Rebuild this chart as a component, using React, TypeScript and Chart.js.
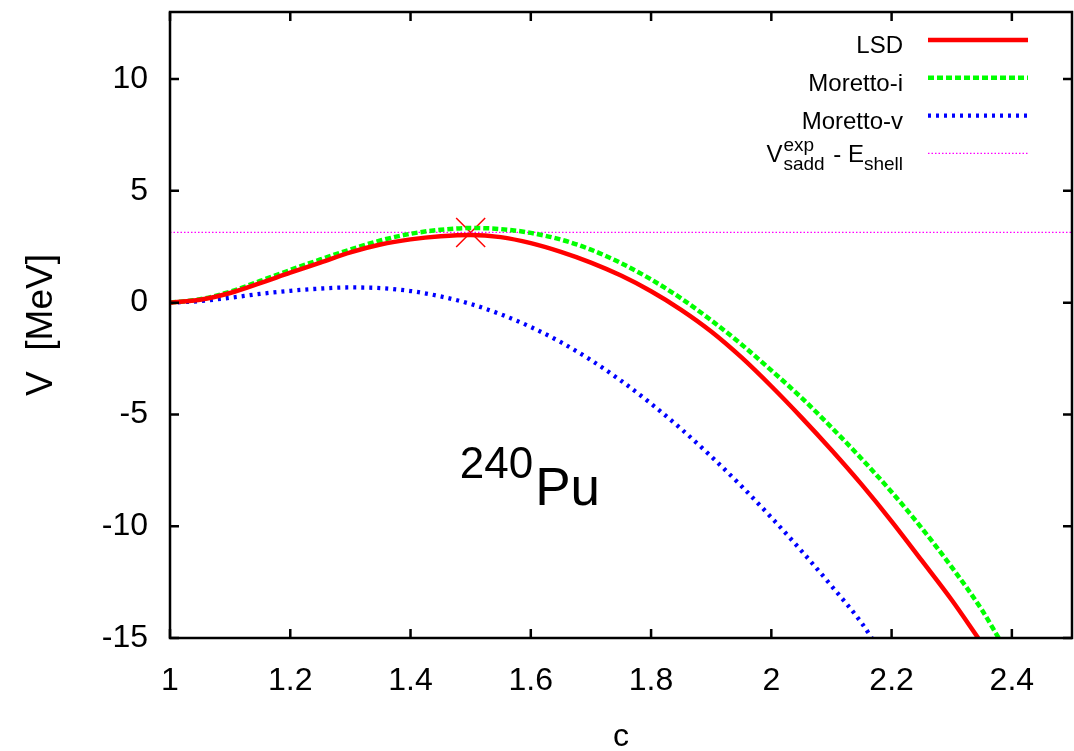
import React, { useEffect, useRef } from "react";
import { Chart, registerables } from "chart.js";

Chart.register(...registerables);

// ---- data ----
const cLSD = [1.0, 1.05, 1.1, 1.15, 1.2, 1.25, 1.3, 1.35, 1.4, 1.45, 1.5, 1.55, 1.6, 1.65, 1.7, 1.75, 1.8, 1.85, 1.9, 1.95, 2.0, 2.05, 2.1, 2.15, 2.2, 2.25, 2.3, 2.344];
const vLSD = [0, 0.13, 0.43, 0.87, 1.34, 1.79, 2.25, 2.6, 2.83, 2.97, 3.03, 2.93, 2.66, 2.27, 1.79, 1.21, 0.51, -0.32, -1.29, -2.44, -3.74, -5.13, -6.59, -8.13, -9.78, -11.53, -13.3, -15];

const cMorettoI = [1.0, 1.05, 1.1, 1.15, 1.2, 1.25, 1.3, 1.35, 1.4, 1.45, 1.5, 1.55, 1.6, 1.65, 1.7, 1.75, 1.8, 1.85, 1.9, 1.95, 2.0, 2.05, 2.1, 2.15, 2.2, 2.25, 2.3, 2.35, 2.378];
const vMorettoI = [0, 0.15, 0.49, 0.97, 1.46, 1.93, 2.38, 2.78, 3.08, 3.26, 3.34, 3.29, 3.12, 2.82, 2.37, 1.77, 1.04, 0.19, -0.79, -1.86, -3.03, -4.25, -5.58, -6.98, -8.47, -10.08, -11.83, -13.74, -15];

const cMorettoV = [1.0, 1.05, 1.1, 1.15, 1.2, 1.25, 1.3, 1.35, 1.4, 1.45, 1.5, 1.55, 1.6, 1.65, 1.7, 1.75, 1.8, 1.85, 1.9, 1.95, 2.0, 2.05, 2.1, 2.15, 2.167];
const vMorettoV = [0, 0.07, 0.22, 0.39, 0.53, 0.63, 0.68, 0.65, 0.52, 0.28, -0.06, -0.52, -1.09, -1.77, -2.57, -3.49, -4.52, -5.65, -6.88, -8.2, -9.61, -11.1, -12.67, -14.32, -15];

const cSadd = [1.0, 2.5];
const vSadd = [3.14, 3.14];

const cMark = [1.5];
const vMark = [3.14];

const xTicks = [1, 1.2, 1.4, 1.6, 1.8, 2, 2.2, 2.4];
const yTicks = [-15, -10, -5, 0, 5, 10];

const legendLabels = ["LSD", "Moretto-i", "Moretto-v", "V_sadd^exp - E_shell"];

const annotC = 1.482;
const annotV = -9.07;

const FONT = '"Liberation Sans", Arial, Helvetica, sans-serif';

const pts = (xs: number[], ys: number[]) => xs.map((x, i) => ({ x, y: ys[i] }));

const decoPlugin = {
  id: "deco",
  afterDraw(chart: any) {
    const { ctx, chartArea: a, scales } = chart;
    const xs = scales.x;
    const ys = scales.y;
    ctx.save();
    // frame + inward ticks (mirrored)
    ctx.strokeStyle = "#000";
    ctx.lineWidth = 2.5;
    ctx.beginPath();
    xTicks.forEach((v) => {
      const px = xs.getPixelForValue(v);
      ctx.moveTo(px, a.bottom);
      ctx.lineTo(px, a.bottom - 9);
      ctx.moveTo(px, a.top);
      ctx.lineTo(px, a.top + 9);
    });
    yTicks.forEach((v) => {
      const py = ys.getPixelForValue(v);
      ctx.moveTo(a.left, py);
      ctx.lineTo(a.left + 9, py);
      ctx.moveTo(a.right, py);
      ctx.lineTo(a.right - 9, py);
    });
    ctx.stroke();
    ctx.strokeRect(a.left, a.top, a.right - a.left, a.bottom - a.top);

    // legend (gnuplot style)
    const textRight = 903;
    const sampleL = 928;
    const sampleR = 1028;
    const row0 = 40;
    const gap = 37.8;
    const dsets = chart.data.datasets;
    ctx.fillStyle = "#000";
    ctx.textBaseline = "alphabetic";
    for (let i = 0; i < 4; i++) {
      const ds = dsets[i];
      const y = row0 + i * gap;
      ctx.save();
      ctx.strokeStyle = ds.borderColor;
      ctx.lineWidth = ds.borderWidth;
      ctx.setLineDash(ds.borderDash || []);
      ctx.beginPath();
      ctx.moveTo(sampleL, y);
      ctx.lineTo(sampleR, y);
      ctx.stroke();
      ctx.restore();
      if (i < 3) {
        ctx.font = `24px ${FONT}`;
        ctx.textAlign = "right";
        ctx.fillText(legendLabels[i], textRight, y + 13);
      } else {
        const big = `24px ${FONT}`;
        const small = `19px ${FONT}`;
        ctx.textAlign = "left";
        let x = textRight;
        ctx.font = small;
        const wShell = ctx.measureText("shell").width;
        const wBlock = Math.max(ctx.measureText("exp").width, ctx.measureText("sadd").width);
        ctx.font = big;
        const wE = ctx.measureText(" - E").width;
        const wV = ctx.measureText("V").width;
        x -= wShell;
        ctx.font = small;
        ctx.fillText("shell", x, y + 17);
        x -= wE;
        ctx.font = big;
        ctx.fillText(" - E", x, y + 9);
        x -= wBlock + 2;
        ctx.font = small;
        ctx.fillText("exp", x, y - 2);
        ctx.fillText("sadd", x, y + 17);
        x -= wV + 1;
        ctx.font = big;
        ctx.fillText("V", x, y + 9);
      }
    }

    // annotation 240Pu
    const ax = xs.getPixelForValue(annotC);
    const ay = ys.getPixelForValue(annotV);
    ctx.textAlign = "left";
    ctx.font = `44px ${FONT}`;
    ctx.fillText("240", ax, ay - 27);
    const w240 = ctx.measureText("240").width;
    ctx.font = `53px ${FONT}`;
    ctx.fillText("Pu", ax + w240 + 2, ay);
    ctx.restore();
  },
};

export default function App() {
  const ref = useRef<HTMLCanvasElement | null>(null);
  useEffect(() => {
    if (!ref.current) return;
    const chart = new Chart(ref.current, {
      type: "line",
      data: {
        datasets: [
          {
            label: "LSD",
            data: pts(cLSD, vLSD),
            borderColor: "#ff0000",
            borderWidth: 4.5,
            pointRadius: 0,
            cubicInterpolationMode: "monotone",
            fill: false,
          },
          {
            label: "Moretto-i",
            data: pts(cMorettoI, vMorettoI),
            borderColor: "#00ff00",
            borderWidth: 4.5,
            borderDash: [6, 3],
            pointRadius: 0,
            cubicInterpolationMode: "monotone",
            fill: false,
          },
          {
            label: "Moretto-v",
            data: pts(cMorettoV, vMorettoV),
            borderColor: "#0000ff",
            borderWidth: 4.3,
            borderDash: [3, 5],
            pointRadius: 0,
            cubicInterpolationMode: "monotone",
            fill: false,
          },
          {
            label: "Vsadd",
            data: pts(cSadd, vSadd),
            borderColor: "#ff00ff",
            borderWidth: 1.3,
            borderDash: [1.5, 2],
            pointRadius: 0,
            fill: false,
          },
          {
            label: "mark",
            data: pts(cMark, vMark),
            showLine: false,
            pointStyle: "crossRot",
            pointRadius: 20.5,
            pointBorderColor: "#ff0000",
            pointBorderWidth: 1.5,
            borderColor: "#ff0000",
          },
        ],
      },
      options: {
        responsive: false,
        animation: false,
        devicePixelRatio: 1,
        layout: { autoPadding: false, padding: { left: 0, top: 12, right: 2, bottom: 0 } },
        plugins: { legend: { display: false }, tooltip: { enabled: false } },
        scales: {
          x: {
            type: "linear",
            min: 1,
            max: 2.5,
            grid: { display: false, drawTicks: false },
            border: { display: false },
            afterBuildTicks: (s: any) => {
              s.ticks = xTicks.map((v) => ({ value: v }));
            },
            afterFit: (s: any) => {
              s.height = 113;
              s.paddingLeft = 0;
              s.paddingRight = 0;
            },
            ticks: {
              autoSkip: false,
              maxRotation: 0,
              padding: 27,
              color: "#000",
              font: { family: FONT, size: 32, lineHeight: 1 },
              callback: (v: any) => String(Math.round(Number(v) * 10) / 10),
            },
            title: {
              display: true,
              text: "c",
              color: "#000",
              font: { family: FONT, size: 32, lineHeight: 1 },
              padding: { top: 0, bottom: -2 },
            },
          },
          y: {
            type: "linear",
            min: -15,
            max: 13,
            grid: { display: false, drawTicks: false },
            border: { display: false },
            afterBuildTicks: (s: any) => {
              s.ticks = yTicks.map((v) => ({ value: v }));
            },
            afterFit: (s: any) => {
              s.width = 170;
              s.paddingTop = 0;
              s.paddingBottom = 0;
            },
            ticks: {
              autoSkip: false,
              padding: 22,
              color: "#000",
              font: { family: FONT, size: 32, lineHeight: 1 },
              callback: (v: any) => String(v),
            },
            title: {
              display: true,
              text: "V  [MeV]",
              color: "#000",
              font: { family: FONT, size: 37, lineHeight: 1 },
              padding: { top: 23, bottom: 0 },
            },
          },
        },
      },
      plugins: [decoPlugin],
    });
    return () => chart.destroy();
  }, []);
  return (
    <div style={{ position: "fixed", left: 0, top: 0, width: 1074, height: 751, background: "#fff" }}>
      <canvas ref={ref} width={1074} height={751} style={{ display: "block" }} />
    </div>
  );
}
